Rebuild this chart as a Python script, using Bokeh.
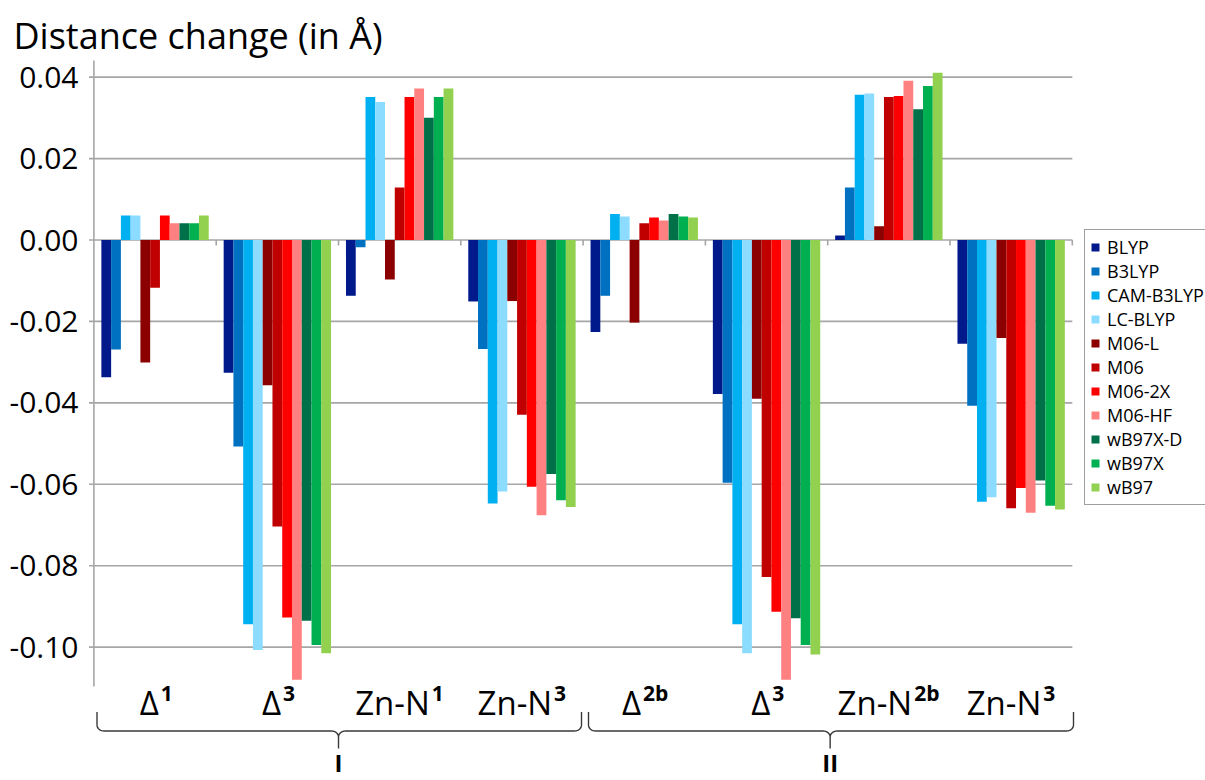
from bokeh.plotting import figure
from bokeh.models import Legend, LegendItem, Label, ColumnDataSource, Range1d
from bokeh.core.properties import value
from bokeh.embed import file_html
from bokeh.resources import INLINE
import math

# ---------------- data ----------------
cat_main = ["Δ", "Δ", "Zn-N", "Zn-N", "Δ", "Δ", "Zn-N", "Zn-N"]
cat_sup = ["1", "3", "1", "3", "2b", "3", "2b", "3"]
set_labels = ["I", "II"]
y_ticks = [0.04, 0.02, 0.00, -0.02, -0.04, -0.06, -0.08, -0.10]
y_tick_labels = ["0.04", "0.02", "0.00", "-0.02", "-0.04", "-0.06", "-0.08", "-0.10"]

methods = ["BLYP", "B3LYP", "CAM-B3LYP", "LC-BLYP", "M06-L", "M06", "M06-2X",
           "M06-HF", "wB97X-D", "wB97X", "wB97"]
colors = ["#001a8c", "#0070c0", "#00b0f0", "#8cdcff", "#8b0000", "#c00000",
          "#ff0000", "#ff8080", "#007048", "#00b050", "#92d050"]

BLYP = [-0.0337, -0.0326, -0.0137, -0.0151, -0.0226, -0.0378, 0.0011, -0.0255]
B3LYP = [-0.0269, -0.0507, -0.0018, -0.0268, -0.0137, -0.0596, 0.0129, -0.0407]
CAM_B3LYP = [0.0060, -0.0944, 0.0351, -0.0647, 0.0064, -0.0944, 0.0357, -0.0643]
LC_BLYP = [0.0060, -0.1007, 0.0339, -0.0618, 0.0058, -0.1015, 0.0360, -0.0632]
M06_L = [-0.0301, -0.0357, -0.0097, -0.0150, -0.0203, -0.0390, 0.0034, -0.0241]
M06 = [-0.0117, -0.0704, 0.0129, -0.0429, 0.0041, -0.0828, 0.0351, -0.0659]
M06_2X = [0.0060, -0.0927, 0.0351, -0.0606, 0.0055, -0.0913, 0.0354, -0.0609]
M06_HF = [0.0041, -0.1080, 0.0372, -0.0676, 0.0048, -0.1080, 0.0391, -0.0670]
wB97X_D = [0.0041, -0.0935, 0.0300, -0.0575, 0.0064, -0.0929, 0.0321, -0.0591]
wB97X = [0.0041, -0.0995, 0.0351, -0.0639, 0.0058, -0.0995, 0.0378, -0.0653]
wB97 = [0.0060, -0.1015, 0.0372, -0.0656, 0.0055, -0.1018, 0.0411, -0.0662]
series = [BLYP, B3LYP, CAM_B3LYP, LC_BLYP, M06_L, M06, M06_2X, M06_HF,
          wB97X_D, wB97X, wB97]

# ---------------- geometry helpers (layout only) ----------------
PX_X = 122.3      # pixels per category
X0 = 93.4         # page x of category 0 start
PX_Y = 4071.0     # pixels per unit of y
Y0 = 239.5        # page y of value 0
W, H = 1205, 780


def X(px):
    return (px - X0) / PX_X


def Y(py):
    return (Y0 - py) / PX_Y


FONT_NAME = "Open Sans"
FONT = value(FONT_NAME)
GRID = "#a6a6a6"

p = figure(width=W, height=H, output_backend="svg", toolbar_location=None,
           x_range=Range1d(X(0), X(W)), y_range=Range1d(Y(H), Y(0)),
           x_axis_location=None, y_axis_location=None, title=None,
           min_border=0)
p.outline_line_color = None
p.background_fill_color = "white"
p.grid.visible = False

n_cat = len(cat_main)
# gridlines
p.segment(x0=[0] * len(y_ticks), x1=[n_cat] * len(y_ticks), y0=y_ticks, y1=y_ticks,
          line_color=GRID, line_width=1.6)
# y axis line and ticks
p.segment(x0=[0], x1=[0], y0=[Y(60)], y1=[Y(686)], line_color=GRID, line_width=1.6)
p.segment(x0=[X(88.5)] * len(y_ticks), x1=[0] * len(y_ticks), y0=y_ticks, y1=y_ticks,
          line_color=GRID, line_width=1.6)
# category boundary ticks on the zero line
bounds = list(range(1, n_cat + 1))
p.segment(x0=bounds, x1=bounds, y0=[0] * n_cat, y1=[Y(245)] * n_cat,
          line_color=GRID, line_width=1.6)

# bars
bw = 9.76 / PX_X
items = []
for j, (m, c, vals) in enumerate(zip(methods, colors, series)):
    xs = [g + 0.5 + (j - 5) * bw for g in range(n_cat)]
    src = ColumnDataSource(dict(x=xs, top=vals))
    r = p.vbar(x="x", top="top", bottom=0, width=bw, source=src,
               fill_color=c, line_color=None)
    items.append(LegendItem(label=m, renderers=[r]))

# y tick labels
p.text(x=[X(78)] * len(y_ticks), y=y_ticks, text=y_tick_labels, text_font=FONT,
       text_font_size="30px", text_align="right", text_baseline="middle",
       text_color="black")

# title
p.text(x=[X(13)], y=[Y(34.5)], text=["Distance change (in Å)"], text_font=FONT,
       text_font_size="36px", text_align="left", text_baseline="middle",
       text_color="black")

# category labels (main text + bold superscript)
main_em = {"Δ": 0.65, "Z": 0.56, "n": 0.618, "-": 0.322, "N": 0.753}
sup_em = {"1": 0.572, "2": 0.572, "3": 0.572, "b": 0.655}
MAIN_FS, SUP_FS, GAP = 33, 21, 2
mx, sx = [], []
for g in range(n_cat):
    wm = sum(main_em[ch] for ch in cat_main[g]) * MAIN_FS
    ws = sum(sup_em[ch] for ch in cat_sup[g]) * SUP_FS
    tot = wm + GAP + ws
    cpx = X0 + (g + 0.5) * PX_X
    right = cpx - tot / 2 + wm
    mx.append(X(right))
    sx.append(X(right + GAP))
p.text(x=mx, y=[Y(701.5)] * n_cat, text=cat_main, text_font=FONT,
       text_font_size=f"{MAIN_FS}px", text_align="right", text_baseline="middle",
       text_color="black")
p.text(x=sx, y=[Y(692.5)] * n_cat, text=cat_sup, text_font=FONT,
       text_font_size=f"{SUP_FS}px", text_font_style="bold", text_align="left",
       text_baseline="middle", text_color="black")

# braces
BR = "#3a3a3a"
ytop, ymid, ytip = Y(711.5), Y(730.5), Y(748)
rx = 7 / PX_X
ry = 6 / PX_Y


def brace(xa, xb, xc):
    xs, ys = [xa], [ytop]
    for k in range(11):
        t = math.pi / 2 * k / 10
        xs.append(xa + rx - rx * math.cos(t))
        ys.append(ymid + ry - ry * math.sin(t))
    for k in range(11):
        t = math.pi / 2 * k / 10
        xs.append(xc - rx + rx * math.sin(t))
        ys.append(ymid - ry + ry * math.cos(t))
    xs += [xc, xc]
    ys += [ytip, ymid - ry]
    for k in range(11):
        t = math.pi / 2 * k / 10
        xs.append(xc + rx - rx * math.cos(t))
        ys.append(ymid - ry + ry * math.sin(t))
    for k in range(11):
        t = math.pi / 2 * k / 10
        xs.append(xb - rx + rx * math.sin(t))
        ys.append(ymid + ry - ry * math.cos(t))
    xs.append(xb)
    ys.append(ytop)
    return xs, ys


brace_spans = [(X(96.5), X(581), 2.0), (X(588), X(1073), 6.02)]
for (xa, xb, xc) in brace_spans:
    bx, by = brace(xa, xb, xc)
    p.line(bx, by, line_color=BR, line_width=1.4)

for lab, (_, _, xc) in zip(set_labels, brace_spans):
    p.add_layout(Label(x=xc, y=Y(762), text=lab, text_font=FONT_NAME,
                       text_font_size="24px", text_font_style="bold",
                       text_align="center", text_baseline="middle",
                       text_color="black"))

legend = Legend(items=items, location=(1084, H - 505), margin=0, padding=5,
                spacing=0, glyph_width=10, glyph_height=10, label_standoff=7,
                label_text_font=FONT_NAME, label_text_font_size="18px",
                label_text_color="black", border_line_color="#404040",
                border_line_width=1, background_fill_color="white")
p.add_layout(legend)

open("out.html", "w").write(file_html(p, INLINE))
